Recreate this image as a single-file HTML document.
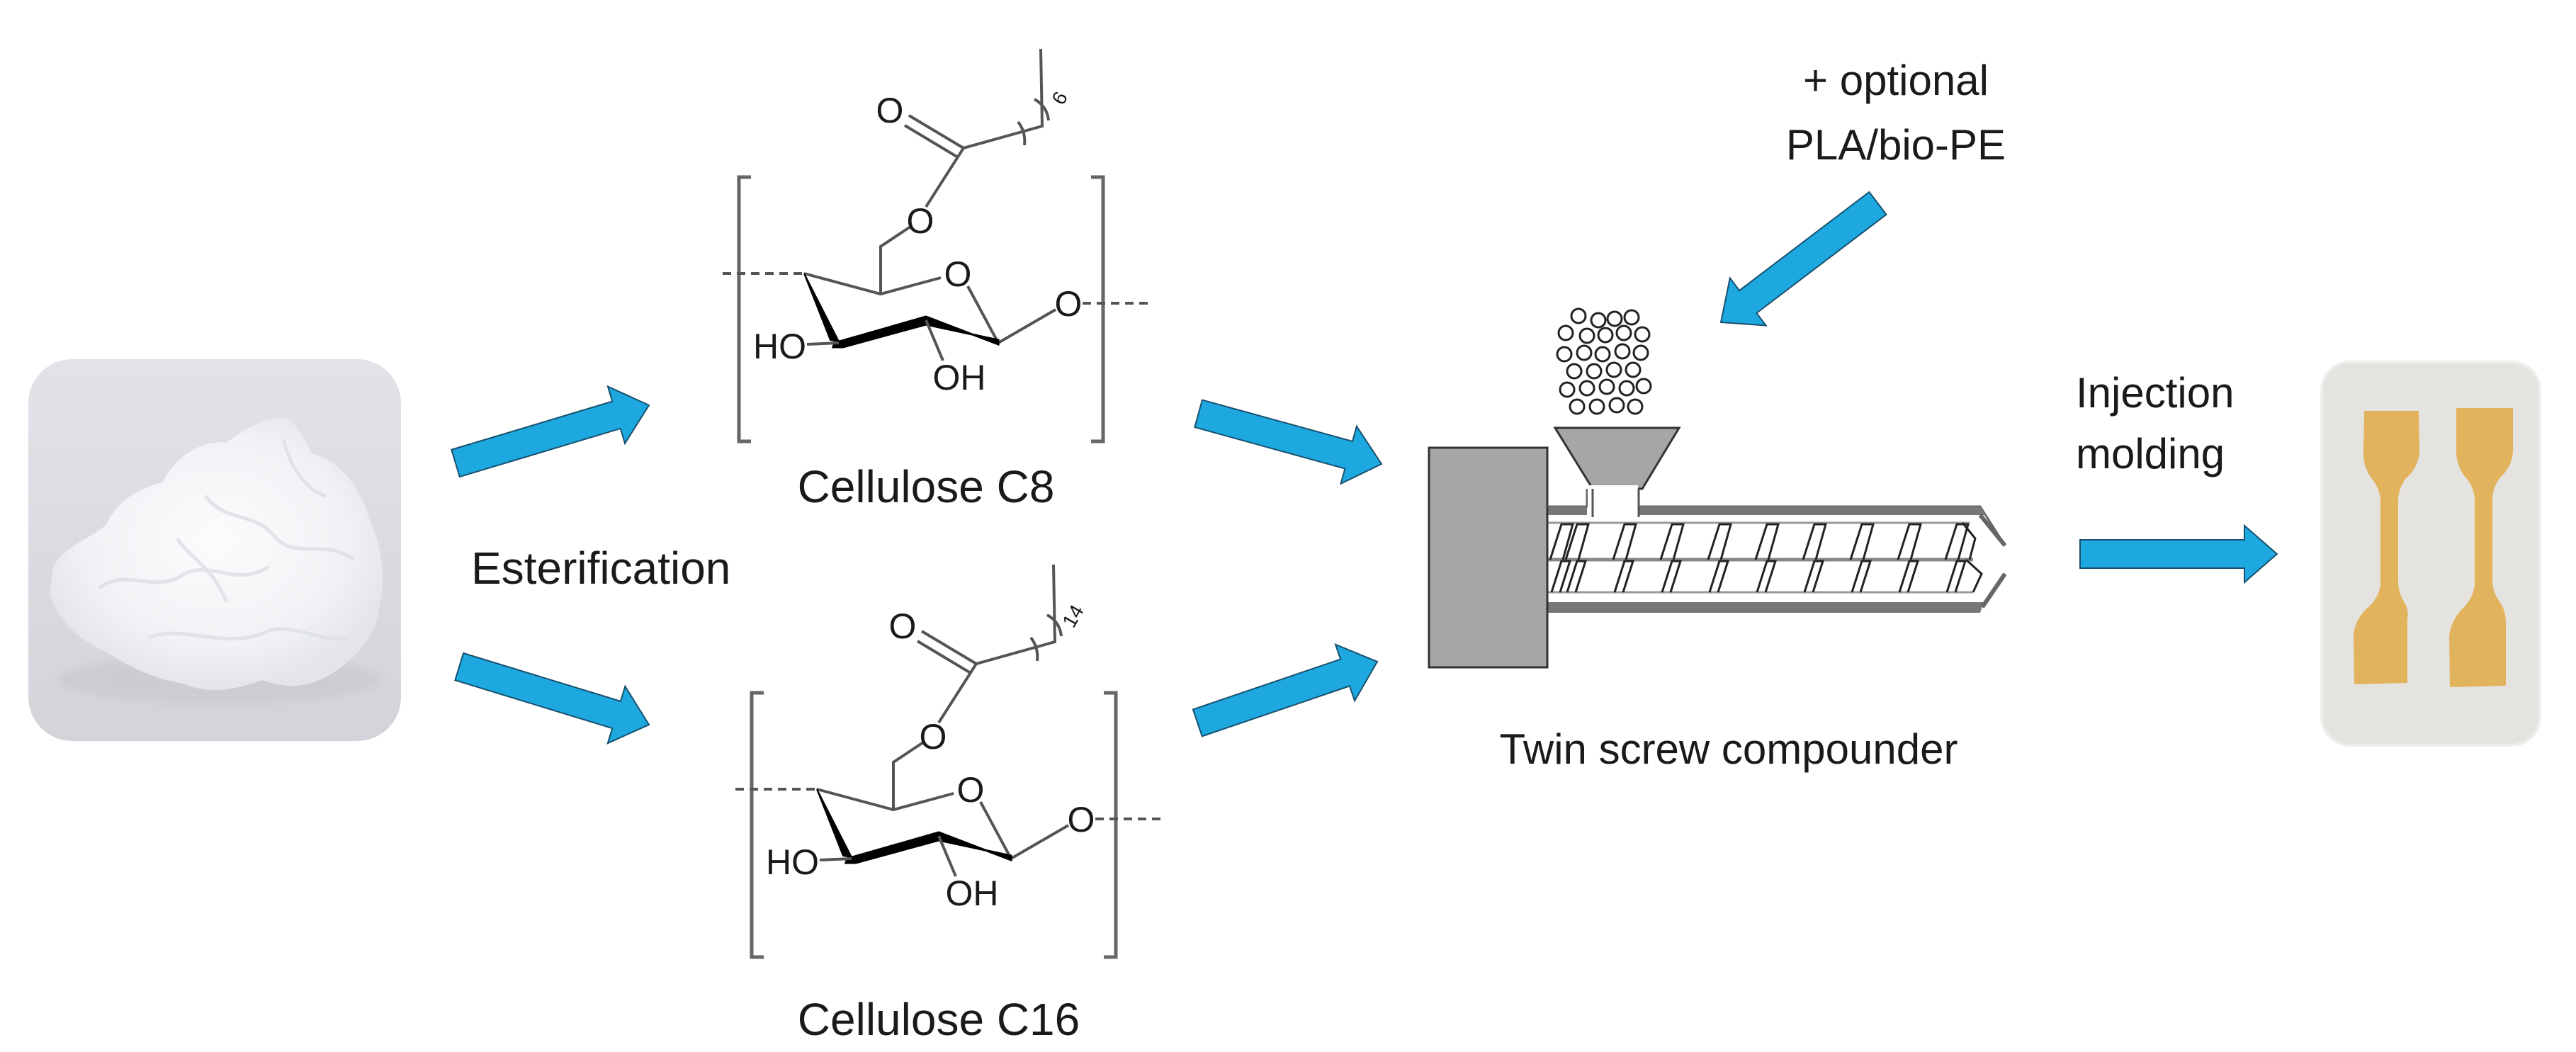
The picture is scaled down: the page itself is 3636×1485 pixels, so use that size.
<!DOCTYPE html>
<html><head><meta charset="utf-8"><style>
html,body{margin:0;padding:0;background:#fff}
svg{display:block}
text{font-family:"Liberation Sans",Arial,sans-serif;fill:#1a1a1a}
</style></head><body>
<svg width="3636" height="1485" viewBox="0 0 3636 1485" xmlns="http://www.w3.org/2000/svg">
<defs>
<linearGradient id="pg" x1="0" y1="0" x2="0" y2="1">
<stop offset="0" stop-color="#e2e3e8"/><stop offset="1" stop-color="#d3d4d9"/></linearGradient>
<radialGradient id="pw" cx="0.5" cy="0.45" r="0.55">
<stop offset="0" stop-color="#fbfcfd"/><stop offset="0.7" stop-color="#f1f2f5"/><stop offset="1" stop-color="#e3e5ea"/></radialGradient>
<filter id="bl"><feGaussianBlur stdDeviation="6"/></filter>
<g id="mol" fill="none" stroke="#555" stroke-width="4">
<path d="M1060,250 L1043,250 L1043,623 L1060,623" stroke="#666" stroke-width="5"/>
<path d="M1540,250 L1557,250 L1557,623 L1540,623" stroke="#666" stroke-width="5"/>
<path d="M1020,386 L1133,386" stroke-dasharray="12,8"/>
<path d="M1528,428 L1622,428" stroke-dasharray="12,8"/>
<path d="M1135,386 L1243,415 L1328,392"/>
<path d="M1366,404 L1409,484 L1490,437"/>
<path d="M1135,386 L1184,482 L1172,480 Z" fill="#000" stroke="#000" stroke-width="2"/>
<path d="M1178,484 L1307,447 L1409,486 L1409,480 L1307,458 L1190,490 L1176,490 Z" fill="#000" stroke="#000" stroke-width="3"/>
<path d="M1243,415 L1243,348 L1285,320"/>
<path d="M1307,292 L1360,209 L1471,178 L1469,69"/>
<path d="M1360,209 L1283,163 M1352,222 L1277,177"/>
<path d="M1139,486 L1184,484"/>
<path d="M1307,452 L1331,509"/>
<path d="M1437,172 Q1448,186 1446,205" />
<path d="M1460,140 Q1478,150 1480,170" />
</g>
</defs>

<!-- powder image -->
<rect x="40" y="507" width="526" height="539" rx="62" fill="url(#pg)"/>
<ellipse cx="310" cy="960" rx="230" ry="35" fill="#c9cace" filter="url(#bl)" opacity="0.7"/>
<path d="M75,800 C90,770 130,760 150,740 C170,700 200,690 230,680 C250,640 290,620 320,625 C350,600 380,590 405,590 C420,600 430,620 440,640 C480,650 510,690 520,730 C540,770 545,820 535,860 C530,900 500,930 470,950 C430,975 400,970 370,960 C330,975 290,980 260,965 C220,960 180,940 150,920 C110,905 80,870 70,840 Z" fill="url(#pw)"/>
<g fill="none" stroke="#dfe1e6" stroke-width="5" opacity="0.9">
<path d="M140,830 C180,800 220,840 260,810 C300,790 330,830 380,800"/>
<path d="M290,700 C320,740 360,720 390,760 C420,790 460,760 500,790"/>
<path d="M210,900 C260,880 320,920 380,890 C420,880 460,910 490,900"/>
<path d="M400,620 C410,660 430,690 460,700"/>
<path d="M250,760 C270,790 300,800 320,850"/>
</g>

<!-- arrows -->
<g fill="#1ea8e0" stroke="#17506e" stroke-width="2">
<g transform="translate(916,572) rotate(-16.7)"><path d="M-285,-20 L-48,-20 L-48,-42 L0,0 L-48,42 L-48,20 L-285,20 Z"/></g>
<g transform="translate(916,1023) rotate(17)"><path d="M-280,-20 L-48,-20 L-48,-42 L0,0 L-48,42 L-48,20 L-280,20 Z"/></g>
<g transform="translate(1950,655) rotate(15.4)"><path d="M-268,-20 L-48,-20 L-48,-42 L0,0 L-48,42 L-48,20 L-268,20 Z"/></g>
<g transform="translate(1944,934) rotate(-18.8)"><path d="M-268,-20 L-48,-20 L-48,-42 L0,0 L-48,42 L-48,20 L-268,20 Z"/></g>
<g transform="translate(2429,455) rotate(142.8)"><path d="M-278,-20 L-48,-20 L-48,-42 L0,0 L-48,42 L-48,20 L-278,20 Z"/></g>
<g transform="translate(3214,782)"><path d="M-278,-20 L-46,-20 L-46,-40 L0,0 L-46,40 L-46,20 L-278,20 Z"/></g>
</g>

<text x="665" y="824" font-size="64">Esterification</text>

<!-- molecules -->
<use href="#mol"/>
<g font-size="50">
<text x="1256" y="173" text-anchor="middle">O</text>
<text x="1299" y="329" text-anchor="middle">O</text>
<text x="1352" y="404" text-anchor="middle">O</text>
<text x="1508" y="446" text-anchor="middle">O</text>
<text x="1138" y="506" text-anchor="end">HO</text>
<text x="1354" y="550" text-anchor="middle">OH</text>
</g>
<text x="1500" y="150" font-size="28" transform="rotate(-60 1500 150)">6</text>
<text x="1307" y="709" font-size="64" text-anchor="middle">Cellulose C8</text>

<g transform="translate(18,728)">
<use href="#mol"/>
<g font-size="50">
<text x="1256" y="173" text-anchor="middle">O</text>
<text x="1299" y="329" text-anchor="middle">O</text>
<text x="1352" y="404" text-anchor="middle">O</text>
<text x="1508" y="446" text-anchor="middle">O</text>
<text x="1138" y="506" text-anchor="end">HO</text>
<text x="1354" y="550" text-anchor="middle">OH</text>
</g>
<text x="1497" y="160" font-size="28" transform="rotate(-60 1497 160)">14</text>
</g>
<text x="1325" y="1461" font-size="64" text-anchor="middle">Cellulose C16</text>

<!-- compounder -->
<text x="2676" y="134" font-size="60" text-anchor="middle">+ optional</text>
<text x="2676" y="225" font-size="60" text-anchor="middle">PLA/bio-PE</text>

<g fill="none" stroke="#222" stroke-width="3">
<circle cx="2228" cy="446" r="10"/><circle cx="2256" cy="452" r="10"/><circle cx="2279" cy="450" r="10"/><circle cx="2303" cy="448" r="10"/>
<circle cx="2210" cy="470" r="10"/><circle cx="2240" cy="474" r="10"/><circle cx="2266" cy="473" r="10"/><circle cx="2292" cy="470" r="10"/><circle cx="2318" cy="472" r="10"/>
<circle cx="2208" cy="500" r="10"/><circle cx="2236" cy="498" r="10"/><circle cx="2262" cy="500" r="10"/><circle cx="2290" cy="496" r="10"/><circle cx="2316" cy="498" r="10"/>
<circle cx="2222" cy="524" r="10"/><circle cx="2250" cy="524" r="10"/><circle cx="2278" cy="522" r="10"/><circle cx="2305" cy="522" r="10"/>
<circle cx="2212" cy="550" r="10"/><circle cx="2240" cy="548" r="10"/><circle cx="2268" cy="546" r="10"/><circle cx="2296" cy="548" r="10"/><circle cx="2320" cy="545" r="10"/>
<circle cx="2226" cy="574" r="10"/><circle cx="2254" cy="574" r="10"/><circle cx="2282" cy="572" r="10"/><circle cx="2308" cy="574" r="10"/>
</g>

<path d="M2195,604 L2370,604 L2318,690 L2248,690 Z" fill="#a6a6a6" stroke="#333" stroke-width="3"/>
<rect x="2017" y="632" width="167" height="310" fill="#a6a6a6" stroke="#333" stroke-width="3"/>

<!-- barrel -->
<path d="M2184,715 L2240,715 L2240,690 M2313,690 L2313,715 L2795,715 L2830,770" fill="none" stroke="#666" stroke-width="3"/>
<path d="M2184,715 H2240 V727 H2184 Z M2313,715 H2795 L2803,727 H2313 Z" fill="#777"/>
<path d="M2830,770 L2795,727" stroke="#666" stroke-width="6"/>
<path d="M2184,850 H2800 L2795,865 H2184 Z" fill="#777"/>
<path d="M2798,857 L2830,810" stroke="#666" stroke-width="6"/>
<g fill="none" stroke="#222" stroke-width="3">
<line x1="2184" y1="738" x2="2780" y2="738" stroke="#999"/>
<line x1="2184" y1="790" x2="2785" y2="790" stroke="#888" stroke-width="5"/>
<line x1="2184" y1="836" x2="2785" y2="836" stroke="#999"/>
<path d="M2770,738 L2788,760 L2780,790 M2775,790 L2797,810 L2785,836"/>
<g id="fl">
<path d="M2188,790 L2204,740 L2220,740 L2206,790"/>
<path d="M2190,836 L2204,792 L2216,792 L2202,836"/>
</g>
<use href="#fl" x="22"/><use href="#fl" x="89"/><use href="#fl" x="156"/><use href="#fl" x="223"/><use href="#fl" x="290"/><use href="#fl" x="357"/><use href="#fl" x="424"/><use href="#fl" x="491"/><use href="#fl" x="558"/>
</g>
<rect x="2241" y="685" width="71" height="48" fill="#fff"/>
<path d="M2248,690 V730 M2313,690 V730" stroke="#555" stroke-width="3"/>
<line x1="2184" y1="715" x2="2184" y2="865" stroke="#333" stroke-width="3"/>

<text x="2440" y="1078" font-size="60" text-anchor="middle">Twin screw compounder</text>
<text x="2930" y="575" font-size="60">Injection</text>
<text x="2930" y="661" font-size="60">molding</text>

<!-- product -->
<rect x="3277" y="511" width="308" height="541" rx="40" fill="#e5e3e0" stroke="#efeeec" stroke-width="4"/>
<g fill="#e2b35d">
<path d="M3337,580 L3414,580 L3415,640 Q3412,662 3395,676 Q3386,690 3385,705 L3385,822 Q3386,840 3395,852 Q3400,862 3398,875 L3398,964 L3323,966 L3322,895 Q3325,872 3345,855 Q3358,842 3360,825 L3360,705 Q3358,688 3348,676 Q3336,660 3336,640 Z"/>
<path d="M3467,576 L3547,576 L3547,638 Q3545,660 3528,675 Q3519,688 3518,703 L3518,822 Q3520,840 3530,852 Q3537,864 3537,878 L3537,968 L3458,970 L3457,897 Q3460,874 3478,857 Q3491,843 3493,825 L3493,703 Q3491,686 3481,675 Q3468,660 3467,638 Z"/>
</g>
</svg>
</body></html>
